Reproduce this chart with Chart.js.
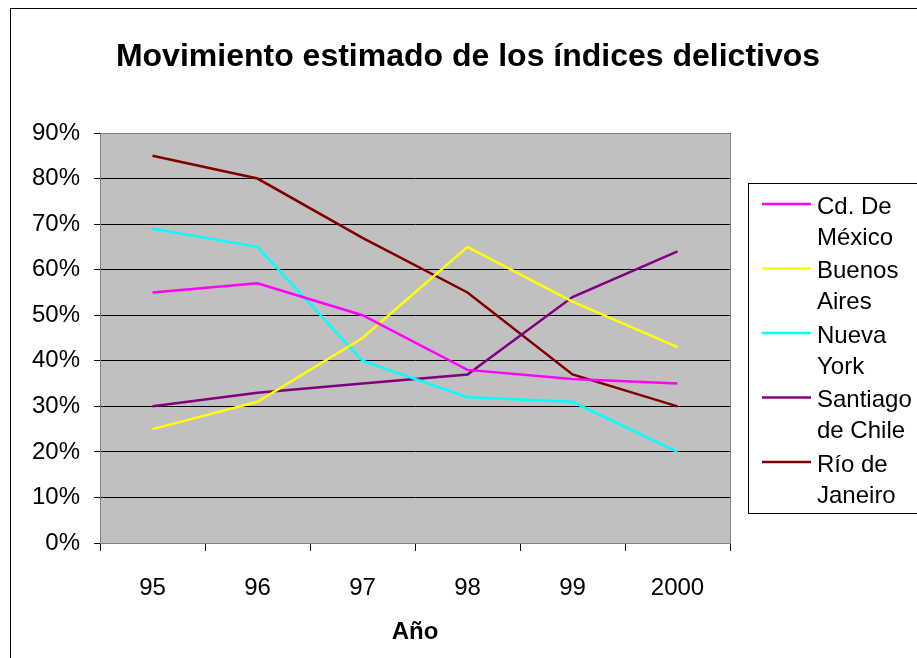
<!DOCTYPE html>
<html>
<head>
<meta charset="utf-8">
<script src="https://cdn.jsdelivr.net/npm/chart.js@4"></script>
<style>
html,body{margin:0;padding:0;background:#fff;}
#wrap{width:917px;height:658px;position:relative;}
</style>
</head>
<body>
<div id="wrap"><canvas id="c" width="917" height="658"></canvas></div>
<script>
const categories = ['95', '96', '97', '98', '99', '2000'];
const mexico = [55, 57, 50, 38, 36, 35];
const buenosAires = [25, 31, 45, 65, 53, 43];
const nuevaYork = [69, 65, 40, 32, 31, 20];
const santiago = [30, 33, 35, 37, 54, 64];
const rio = [85, 80, 67, 55, 37, 30];
const seriesNames = ['Cd. De México', 'Buenos Aires', 'Nueva York', 'Santiago de Chile', 'Río de Janeiro'];
const legendLines = [['Cd. De', 'México'], ['Buenos', 'Aires'], ['Nueva', 'York'], ['Santiago', 'de Chile'], ['Río de', 'Janeiro']];
const colors = ['#FF00FF', '#FFFF00', '#00FFFF', '#800080', '#800000'];
const yMin = 0, yMax = 90, yStep = 10;
const titleText = 'Movimiento estimado de los índices delictivos';
const xTitle = 'Año';

const FONT = 'Arial, "Liberation Sans", sans-serif';

const frame = {
  id: 'frame',
  beforeDraw(chart) {
    const ctx = chart.ctx, a = chart.chartArea;
    ctx.save();
    ctx.fillStyle = '#fff';
    ctx.fillRect(0, 0, chart.width, chart.height);
    ctx.strokeStyle = '#000';
    ctx.lineWidth = 1;
    ctx.strokeRect(10.5, 8.5, chart.width + 20, chart.height + 20);
    ctx.fillStyle = '#C0C0C0';
    ctx.fillRect(a.left, a.top, a.right - a.left, a.bottom - a.top);
    ctx.restore();
  },
  afterDatasetsDraw(chart) {
    const ctx = chart.ctx, a = chart.chartArea;
    ctx.save();
    ctx.strokeStyle = '#808080';
    ctx.lineWidth = 1;
    ctx.strokeRect(a.left + 0.5, a.top + 0.5, a.right - a.left, a.bottom - a.top);
    ctx.restore();
  },
  afterDraw(chart) {
    const ctx = chart.ctx;
    ctx.save();
    // title
    ctx.fillStyle = '#000';
    ctx.font = 'bold 32px ' + FONT;
    ctx.textAlign = 'center';
    ctx.textBaseline = 'middle';
    ctx.fillText(titleText, 468, 57);
    // legend
    ctx.fillStyle = '#fff';
    ctx.strokeStyle = '#000';
    ctx.lineWidth = 1;
    ctx.fillRect(748.5, 183.5, 200, 330);
    ctx.strokeRect(748.5, 183.5, 200, 330);
    ctx.font = '24px ' + FONT;
    ctx.textBaseline = 'middle';
    ctx.textAlign = 'left';
    chart.data.datasets.forEach((ds, i) => {
      const y = 207 + i * 64.5;
      ctx.strokeStyle = ds.borderColor;
      ctx.lineWidth = 2.5;
      ctx.beginPath();
      ctx.moveTo(762, y - 3);
      ctx.lineTo(811, y - 3);
      ctx.stroke();
      ctx.fillStyle = '#000';
      legendLines[i].forEach((t, j) => ctx.fillText(t, 817, y + j * 31));
    });
    ctx.restore();
  }
};

const seriesData = [mexico, buenosAires, nuevaYork, santiago, rio];

new Chart(document.getElementById('c'), {
  type: 'line',
  data: {
    labels: categories,
    datasets: seriesData.map((d, i) => ({
      label: seriesNames[i],
      data: d,
      borderColor: colors[i],
      backgroundColor: colors[i],
      borderWidth: 2.5,
      pointRadius: 0,
      tension: 0,
      fill: false
    }))
  },
  options: {
    responsive: false,
    animation: false,
    layout: { padding: { left: 0, right: 187, top: 133, bottom: 0 } },
    plugins: {
      legend: { display: false },
      tooltip: { enabled: false },
      title: { display: false }
    },
    scales: {
      x: {
        type: 'category',
        offset: true,
        grid: { display: true, drawOnChartArea: false, drawTicks: true, tickLength: 8, offset: true, color: '#000' },
        border: { display: true, color: '#808080' },
        ticks: { color: '#000', font: { family: FONT, size: 24 }, padding: 23, maxRotation: 0 },
        title: { display: true, text: xTitle, color: '#000', font: { family: FONT, size: 24, weight: 'bold' }, padding: { top: 12, bottom: 11 } },
        afterFit(s) { s.height = 115; }
      },
      y: {
        min: yMin, max: yMax,
        ticks: { stepSize: yStep, color: '#000', font: { family: FONT, size: 24 }, padding: 14, callback: v => v + '%' },
        grid: { color: '#000', tickLength: 6, drawTicks: true },
        border: { display: true, color: '#808080' },
        afterFit(s) { s.width = 100; }
      }
    }
  },
  plugins: [frame]
});
</script>
</body>
</html>
